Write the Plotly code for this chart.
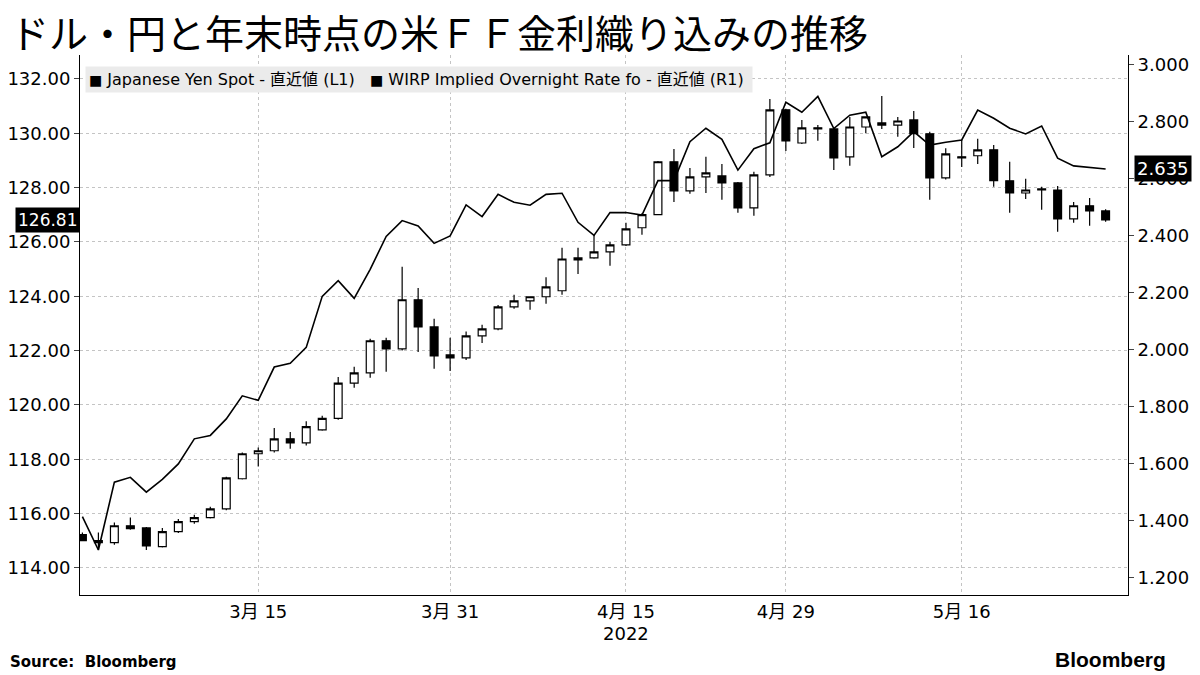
import plotly.graph_objects as go

dates = ["2022-02-28",
         "2022-03-01", "2022-03-02", "2022-03-03", "2022-03-04", "2022-03-07", "2022-03-08", "2022-03-09",
         "2022-03-10", "2022-03-11", "2022-03-14", "2022-03-15", "2022-03-16", "2022-03-17", "2022-03-18",
         "2022-03-21", "2022-03-22", "2022-03-23", "2022-03-24", "2022-03-25", "2022-03-28", "2022-03-29",
         "2022-03-30", "2022-03-31",
         "2022-04-01", "2022-04-04", "2022-04-05", "2022-04-06", "2022-04-07", "2022-04-08", "2022-04-11",
         "2022-04-12", "2022-04-13", "2022-04-14", "2022-04-15", "2022-04-18", "2022-04-19", "2022-04-20",
         "2022-04-21", "2022-04-22", "2022-04-25", "2022-04-26", "2022-04-27", "2022-04-28", "2022-04-29",
         "2022-05-02", "2022-05-03", "2022-05-04", "2022-05-05", "2022-05-06", "2022-05-09", "2022-05-10",
         "2022-05-11", "2022-05-12", "2022-05-13", "2022-05-16", "2022-05-17", "2022-05-18", "2022-05-19",
         "2022-05-20", "2022-05-23", "2022-05-24", "2022-05-25", "2022-05-26", "2022-05-27"]

yen_open = [115.22, 115.00, 114.93, 115.55, 115.47, 114.78, 115.33, 115.70, 115.85, 116.17, 117.28,
            118.20, 118.31, 118.75, 118.60, 119.08, 119.50, 120.80, 121.18, 122.36, 122.06, 123.87,
            122.87, 121.84, 121.73, 122.54, 122.80, 123.61, 123.83, 123.98, 124.20, 125.41, 125.41,
            125.63, 125.89, 126.52, 127.00, 128.95, 127.88, 128.39, 128.43, 128.17, 127.25, 128.47,
            130.86, 129.64, 130.20, 130.16, 129.13, 130.23, 130.38, 130.30, 130.49, 129.98, 128.36,
            129.13, 129.17, 129.39, 128.25, 127.80, 127.95, 127.91, 126.85, 127.33, 127.14]
yen_high = [115.30, 115.30, 115.67, 115.85, 115.50, 115.47, 115.80, 115.95, 116.25, 117.35, 118.25,
            118.43, 119.15, 119.00, 119.40, 119.60, 121.03, 121.40, 122.43, 122.47, 125.08, 124.30,
            123.17, 122.47, 122.70, 122.95, 123.68, 124.05, 124.00, 124.70, 125.78, 125.78, 126.26,
            126.00, 126.70, 127.05, 128.98, 129.42, 128.72, 129.13, 128.87, 128.20, 128.58, 131.26,
            130.90, 130.49, 130.30, 130.20, 130.60, 130.62, 131.37, 130.60, 130.82, 130.05, 129.45,
            129.75, 129.80, 129.57, 128.95, 128.32, 128.03, 128.06, 127.47, 127.62, 127.20]
yen_low = [114.98, 114.66, 114.85, 115.40, 114.66, 114.75, 115.28, 115.62, 115.82, 116.12, 117.25,
           117.73, 118.25, 118.38, 118.50, 119.05, 119.45, 120.63, 121.00, 121.22, 122.00, 121.95,
           121.33, 121.25, 121.65, 122.28, 122.75, 123.54, 123.50, 123.72, 124.05, 124.82, 125.38,
           125.12, 125.85, 126.26, 126.98, 127.47, 127.77, 127.80, 127.55, 127.07, 126.96, 128.39,
           129.35, 129.60, 129.72, 128.65, 128.80, 130.00, 130.16, 129.87, 129.46, 127.55, 128.30,
           128.76, 128.87, 128.03, 127.07, 127.58, 127.18, 126.37, 126.70, 126.59, 126.74]
yen_close = [115.00, 114.93, 115.55, 115.44, 114.81, 115.33, 115.70, 115.85, 116.17, 117.31, 118.20,
             118.31, 118.75, 118.60, 119.20, 119.50, 120.80, 121.18, 122.36, 122.06, 123.87, 122.87,
             121.80, 121.73, 122.54, 122.80, 123.61, 123.83, 123.98, 124.34, 125.37, 125.34, 125.63,
             125.89, 126.48, 127.00, 128.95, 127.88, 128.39, 128.54, 128.17, 127.25, 128.47, 130.86,
             129.72, 130.20, 130.16, 129.09, 130.23, 130.60, 130.30, 130.45, 129.98, 128.36, 129.24,
             129.09, 129.39, 128.25, 127.80, 127.91, 127.91, 126.85, 127.33, 127.14, 126.81]

wirp = [1.415, 1.298, 1.536, 1.553, 1.501, 1.546, 1.600, 1.688, 1.700, 1.758, 1.839, 1.823, 1.940,
        1.953, 2.009, 2.188, 2.243, 2.181, 2.283, 2.398, 2.454, 2.435, 2.374, 2.400, 2.509, 2.468,
        2.546, 2.518, 2.508, 2.546, 2.550, 2.448, 2.402, 2.482, 2.482, 2.473, 2.594, 2.594, 2.731,
        2.778, 2.739, 2.631, 2.706, 2.727, 2.869, 2.834, 2.890, 2.777, 2.824, 2.834, 2.678, 2.713,
        2.766, 2.719, 2.729, 2.737, 2.842, 2.813, 2.778, 2.758, 2.786, 2.673, 2.646, 2.641, 2.635]

tick_dates = ["2022-03-15", "2022-03-31", "2022-04-15", "2022-04-29", "2022-05-16"]
tick_text = ["3月 15", "3月 31", "4月 15", "4月 29", "5月 16"]
left_ticks = [114, 116, 118, 120, 122, 124, 126, 128, 130, 132]
right_ticks = [1.2, 1.4, 1.6, 1.8, 2.0, 2.2, 2.4, 2.6, 2.8, 3.0]

font = "DejaVu Sans, Noto Sans CJK JP"
grid = dict(showgrid=True, gridcolor="#c4c4c4", griddash="3px,3px")

fig = go.Figure()
fig.add_trace(go.Candlestick(x=dates, open=yen_open, high=yen_high, low=yen_low, close=yen_close,
                             increasing=dict(line=dict(color="black", width=1.2), fillcolor="white"),
                             decreasing=dict(line=dict(color="black", width=1.2), fillcolor="black"),
                             whiskerwidth=0, showlegend=False, yaxis="y"))
fig.add_trace(go.Scatter(x=dates, y=wirp, mode="lines", line=dict(color="black", width=1.6),
                         showlegend=False, yaxis="y2"))

# page is drawn 8px in from the corner, so the figure is 8px smaller
fig.update_layout(
    width=1192, height=667, plot_bgcolor="white", paper_bgcolor="white",
    margin=dict(l=72, r=72, t=47, b=80),
    font=dict(family=font, size=18, color="black"),
    xaxis=dict(type="category", range=[-0.15, 65.4], tickmode="array", tickvals=tick_dates,
               ticktext=tick_text, rangeslider=dict(visible=False), showline=True, linecolor="black",
               ticks="", tickfont=dict(size=18), automargin=False, **grid),
    yaxis=dict(range=[113.0, 132.88], tickvals=left_ticks, tickformat=".2f",
               showline=True, linecolor="black", ticks="outside", ticklen=5, zeroline=False,
               automargin=False, **grid),
    yaxis2=dict(range=[1.14, 3.035], tickvals=right_ticks, tickformat=".3f", overlaying="y",
                side="right", showgrid=False, showline=True, linecolor="black",
                ticks="outside", ticklen=5, zeroline=False, automargin=False),
)

fig.add_annotation(text="ドル・円と年末時点の米ＦＦ金利織り込みの推移", xref="paper", yref="paper",
                   x=-0.069, y=1.045, xanchor="left", yanchor="middle", showarrow=False,
                   font=dict(size=39, family="Noto Sans CJK JP"))
fig.add_annotation(text="<span style='font-size:14px'>■</span> Japanese Yen Spot - 直近値 (L1)   "
                        "<span style='font-size:14px'>■</span> WIRP Implied Overnight Rate fo - 直近値 (R1) ",
                   xref="paper", yref="paper", x=0.005, y=0.98, xanchor="left", yanchor="top",
                   showarrow=False, bgcolor="#ebebeb", font=dict(size=16, family=font),
                   borderpad=3)
fig.add_annotation(text="126.81", xref="paper", yref="y", x=0, y=yen_close[-1], xanchor="right",
                   showarrow=False, bgcolor="black", font=dict(color="white", size=17), borderpad=2)
fig.add_annotation(text="2.635", xref="paper", yref="y2", x=1.006, y=wirp[-1], xanchor="left",
                   showarrow=False, bgcolor="black", font=dict(color="white", size=18), borderpad=2)
fig.add_annotation(text="2022", xref="x", yref="paper", x="2022-04-15", y=-0.072, yanchor="middle",
                   showarrow=False, font=dict(size=18))
fig.add_annotation(text="<b>Source:  Bloomberg</b>", xref="paper", yref="paper", x=-0.069, y=-0.124,
                   xanchor="left", yanchor="middle", showarrow=False, font=dict(size=15))
fig.add_annotation(text="<b>Bloomberg</b>", xref="paper", yref="paper", x=1.038, y=-0.12,
                   xanchor="right", yanchor="middle", showarrow=False,
                   font=dict(size=21, family="Liberation Sans"))

fig.write_html("out.html")
